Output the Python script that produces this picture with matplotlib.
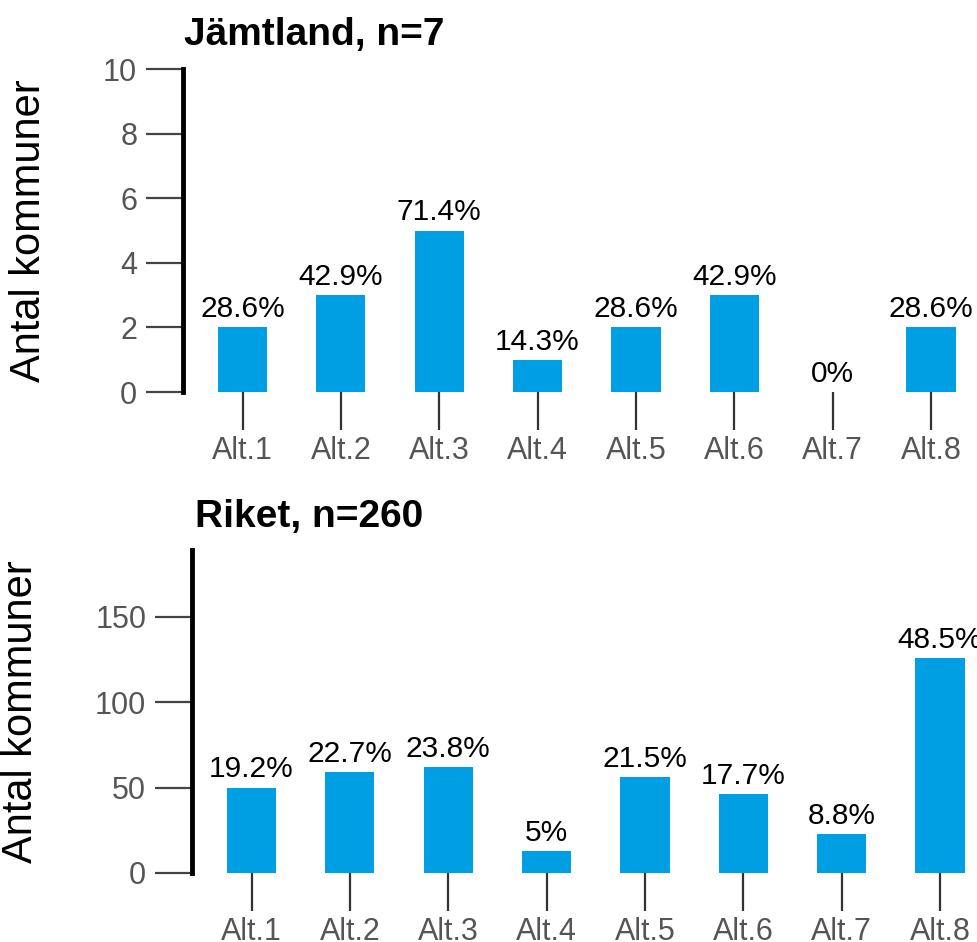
import matplotlib
matplotlib.use("Agg")
import matplotlib.pyplot as plt

plt.rcParams['font.family'] = ['Liberation Sans', 'DejaVu Sans']

categories = ["Alt.1", "Alt.2", "Alt.3", "Alt.4", "Alt.5", "Alt.6", "Alt.7", "Alt.8"]

jamt_counts = [2, 3, 5, 1, 2, 3, 0, 2]
jamt_labels = ["28.6%", "42.9%", "71.4%", "14.3%", "28.6%", "42.9%", "0%", "28.6%"]

riket_counts = [50, 59, 62, 13, 56, 46, 23, 126]
riket_labels = ["19.2%", "22.7%", "23.8%", "5%", "21.5%", "17.7%", "8.8%", "48.5%"]

bar_color = "#009fe3"
W, H = 978, 942

fig = plt.figure(figsize=(W / 100, H / 100), dpi=100)


def panel(rect, counts, labels, ylim, yticks, xlim, title, title_xy, ylabel_xy):
    ax = fig.add_axes(rect)
    x = list(range(len(categories)))
    ax.bar(x, counts, width=0.5, color=bar_color, zorder=2)
    for xi, c, lab in zip(x, counts, labels):
        ax.annotate(lab, (xi, c), xytext=(0, 3), textcoords="offset points",
                    ha="center", va="bottom", fontsize=21.5, color="black")
    ax.set_xlim(*xlim)
    ax.set_ylim(*ylim)
    ax.set_yticks(yticks)
    ax.set_xticks(x)
    ax.set_xticklabels(categories)
    for s in ["top", "right", "bottom"]:
        ax.spines[s].set_visible(False)
    ax.spines["left"].set_linewidth(3.5)
    ax.spines["left"].set_color("black")
    ax.tick_params(axis="y", length=27, width=1.6, color="#444444",
                   labelsize=22, labelcolor="#555555", pad=6)
    ax.tick_params(axis="x", length=27, width=1.6, color="#333333",
                   labelsize=22, labelcolor="#555555", pad=5)
    ax.patch.set_visible(False)
    fig.text(title_xy[0] / W, 1 - title_xy[1] / H, title, fontsize=28,
             fontweight="bold", ha="left", va="baseline")
    fig.text(ylabel_xy[0] / W, 1 - ylabel_xy[1] / H, "Antal kommuner",
             fontsize=30, rotation=90, ha="center", va="center")
    return ax


# top panel: Jämtland
panel([183 / W, 1 - 392 / H, 1 - 183 / W, (392 - 69) / H],
      jamt_counts, jamt_labels, (0, 10), [0, 2, 4, 6, 8, 10],
      (-0.605, 7.478), "Jämtland, n=7", (184, 45), (29, 231))

# bottom panel: Riket
panel([192 / W, 1 - 873 / H, 1 - 192 / W, (873 - 550) / H],
      riket_counts, riket_labels, (0, 189), [0, 50, 100, 150],
      (-0.605, 7.386), "Riket, n=260", (195, 527), (21, 712))

fig.savefig("out.png", dpi=100)
